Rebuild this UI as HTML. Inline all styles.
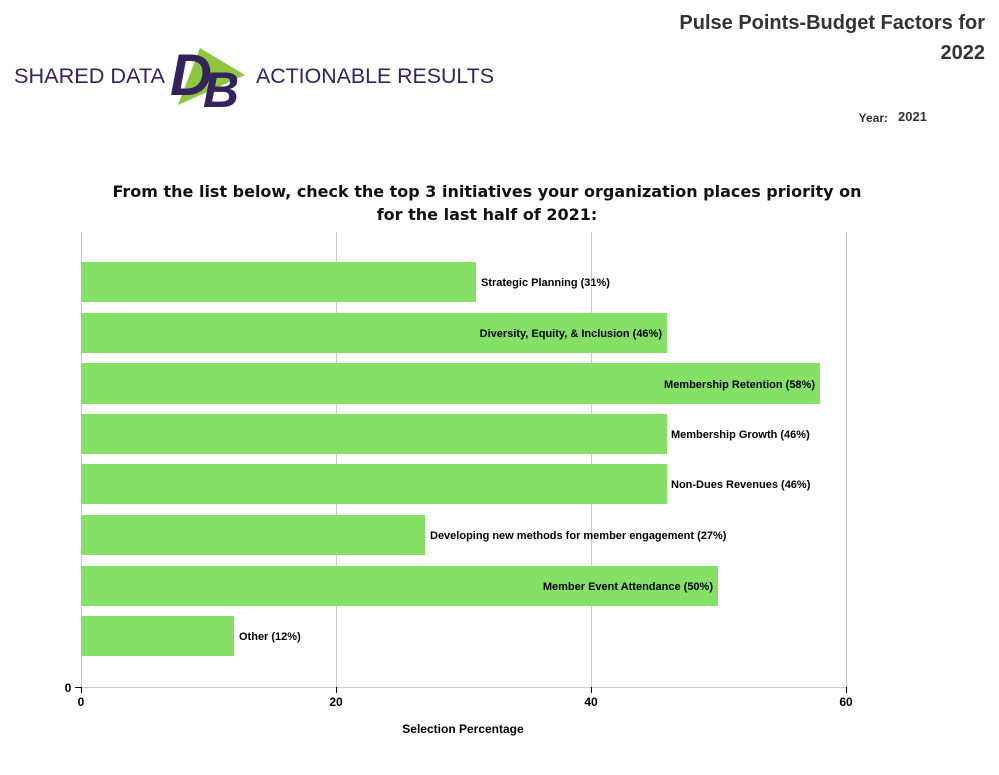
<!DOCTYPE html>
<html><head><style>
body{margin:0;background:#fff;width:999px;height:770px;overflow:hidden;font-family:"Liberation Sans",Arial,sans-serif;}
</style></head><body>
<svg width="999" height="770" xmlns="http://www.w3.org/2000/svg" font-family="Liberation Sans, Arial, sans-serif">
<text x="985" y="29" text-anchor="end" font-size="20" font-weight="bold" fill="#333">Pulse Points-Budget Factors for</text>
<text x="985" y="59" text-anchor="end" font-size="20" font-weight="bold" fill="#333">2022</text>
<text x="888" y="122" text-anchor="end" font-size="12" font-weight="bold" fill="#333">Year:</text>
<text x="898" y="121" font-size="13" font-weight="bold" fill="#333">2021</text>
<!-- logo -->
<text x="14" y="83" font-size="21" fill="#35215e" textLength="151" lengthAdjust="spacingAndGlyphs">SHARED DATA</text>
<polygon points="200,48 245,75 178,105" fill="#8dc63f"/>
<text x="170" y="95" font-size="58" font-weight="bold" font-style="italic" fill="#35215e">D</text>
<text x="203" y="107" font-size="50" font-weight="bold" font-style="italic" fill="#35215e">B</text>
<text x="256" y="83" font-size="21" fill="#35215e" textLength="238" lengthAdjust="spacingAndGlyphs">ACTIONABLE RESULTS</text>
<!-- title -->
<text x="487" y="197" text-anchor="middle" font-size="16" font-weight="bold" fill="#111" font-family="DejaVu Sans, sans-serif" textLength="749" lengthAdjust="spacingAndGlyphs">From the list below, check the top 3 initiatives your organization places priority on</text>
<text x="487" y="220" text-anchor="middle" font-size="16" font-weight="bold" fill="#111" font-family="DejaVu Sans, sans-serif">for the last half of 2021:</text>
<!-- grid -->
<g stroke="#ccc" stroke-width="1">
<line x1="81.5" y1="232" x2="81.5" y2="687"/>
<line x1="336.5" y1="232" x2="336.5" y2="687"/>
<line x1="591.5" y1="232" x2="591.5" y2="687"/>
<line x1="846.5" y1="232" x2="846.5" y2="687"/>
<line x1="81" y1="687.5" x2="846" y2="687.5"/>
</g>
<g stroke="#000" stroke-width="1">
<line x1="81.5" y1="687" x2="81.5" y2="693"/>
<line x1="336.5" y1="687" x2="336.5" y2="693"/>
<line x1="591.5" y1="687" x2="591.5" y2="693"/>
<line x1="846.5" y1="687" x2="846.5" y2="693"/>
<line x1="75" y1="687.5" x2="81" y2="687.5"/>
</g>
<g font-size="12" font-weight="bold" fill="#000" text-anchor="middle">
<text x="81" y="706">0</text><text x="336" y="706">20</text><text x="591" y="706">40</text><text x="846" y="706">60</text>
<text x="68" y="692">0</text>
<text x="463" y="733">Selection Percentage</text>
</g>
<g fill="#84e166">
<rect x="81" y="262" width="395" height="40"/>
<rect x="81" y="313" width="586" height="40"/>
<rect x="81" y="363" width="739" height="41"/>
<rect x="81" y="414" width="586" height="40"/>
<rect x="81" y="464" width="586" height="40"/>
<rect x="81" y="515" width="344" height="40"/>
<rect x="81" y="566" width="637" height="40"/>
<rect x="81" y="616" width="153" height="40"/>
</g>
<g font-size="11" font-weight="bold" fill="#000">
<text x="481" y="286">Strategic Planning (31%)</text>
<text x="662" y="337" text-anchor="end">Diversity, Equity, &amp; Inclusion (46%)</text>
<text x="815" y="388" text-anchor="end">Membership Retention (58%)</text>
<text x="671" y="438">Membership Growth (46%)</text>
<text x="671" y="488">Non-Dues Revenues (46%)</text>
<text x="430" y="539">Developing new methods for member engagement (27%)</text>
<text x="713" y="590" text-anchor="end">Member Event Attendance (50%)</text>
<text x="239" y="640">Other (12%)</text>
</g>
</svg>
</body></html>
